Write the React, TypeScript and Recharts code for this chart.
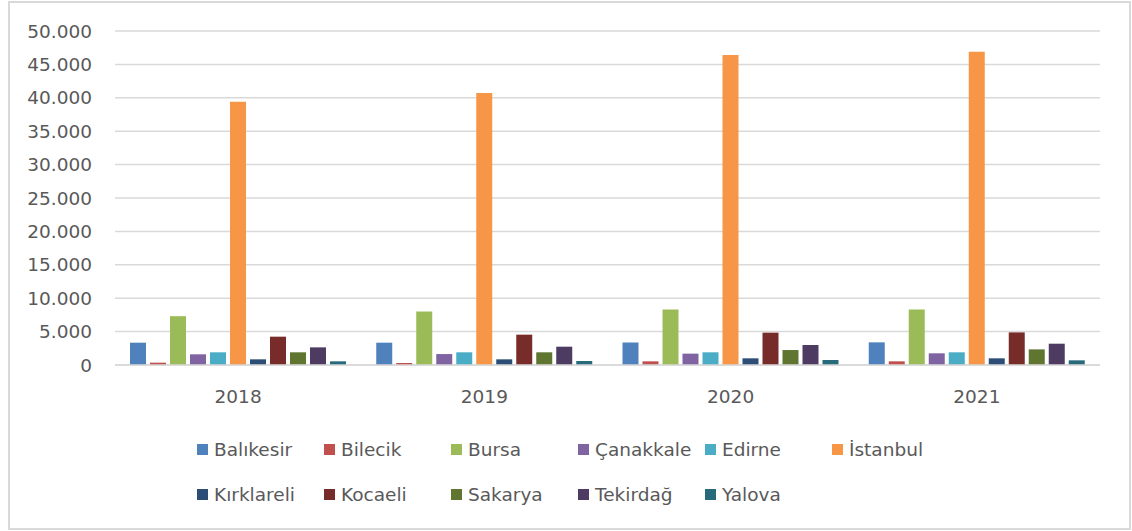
import React from 'react';
import { BarChart, Bar, XAxis, YAxis, CartesianGrid, Legend } from 'recharts';

const years = ['2018', '2019', '2020', '2021'];

const balikesir = [3340, 3340, 3370, 3390];
const bilecik = [350, 300, 550, 550];
const bursa = [7310, 8010, 8310, 8310];
const canakkale = [1600, 1640, 1700, 1750];
const edirne = [1900, 1900, 1900, 1900];
const istanbul = [39400, 40700, 46400, 46900];
const kirklareli = [850, 850, 1000, 1000];
const kocaeli = [4240, 4540, 4840, 4880];
const sakarya = [1900, 1900, 2240, 2340];
const tekirdag = [2640, 2740, 2990, 3190];
const yalova = [550, 600, 750, 700];

const yTicks = [0, 5000, 10000, 15000, 20000, 25000, 30000, 35000, 40000, 45000, 50000];

const seriesDefs = [
  { key: 'Balıkesir', values: balikesir, color: '#4F81BD' },
  { key: 'Bilecik', values: bilecik, color: '#C0504D' },
  { key: 'Bursa', values: bursa, color: '#9BBB59' },
  { key: 'Çanakkale', values: canakkale, color: '#8064A2' },
  { key: 'Edirne', values: edirne, color: '#4BACC6' },
  { key: 'İstanbul', values: istanbul, color: '#F79646' },
  { key: 'Kırklareli', values: kirklareli, color: '#2C4D75' },
  { key: 'Kocaeli', values: kocaeli, color: '#772C2A' },
  { key: 'Sakarya', values: sakarya, color: '#5F7530' },
  { key: 'Tekirdağ', values: tekirdag, color: '#4D3B62' },
  { key: 'Yalova', values: yalova, color: '#276A7C' },
];

const data = years.map((y, i) => {
  const row: Record<string, string | number> = { year: y };
  seriesDefs.forEach((s) => {
    row[s.key] = s.values[i];
  });
  return row;
});

const FONT = '"DejaVu Sans", sans-serif';
const TEXT = '#595959';
const FS = 18.5;

const fmt = (v: number) => String(v).replace(/\B(?=(\d{3})+(?!\d))/g, '.');

const LegendContent = () => (
  <div
    style={{
      display: 'grid',
      gridTemplateColumns: 'repeat(6, 127px)',
      rowGap: 19,
      fontFamily: FONT,
      fontSize: FS,
      color: TEXT,
    }}
  >
    {seriesDefs.map((s) => (
      <div key={s.key} style={{ display: 'flex', alignItems: 'center', height: 26, whiteSpace: 'nowrap' }}>
        <span style={{ display: 'inline-block', width: 11, height: 11, background: s.color, marginRight: 6 }} />
        <span>{s.key}</span>
      </div>
    ))}
  </div>
);

export default function App() {
  return (
    <div style={{ position: 'absolute', left: 0, top: 0, width: 1132, height: 531, background: '#fff' }}>
      <div
        style={{
          position: 'absolute',
          left: 8,
          top: 1,
          width: 1123,
          height: 529,
          border: '2px solid #d9d9d9',
          boxSizing: 'border-box',
        }}
      />
      <div style={{ position: 'absolute', left: 0, top: 0 }}>
        <BarChart
          width={1132}
          height={531}
          data={data}
          margin={{ top: 31, right: 32, left: 15, bottom: 136 }}
          barCategoryGap={15}
          barGap={4}
        >
          <CartesianGrid vertical={false} stroke="#d9d9d9" strokeWidth={1.5} />
          <XAxis
            dataKey="year"
            axisLine={{ stroke: '#d9d9d9', strokeWidth: 1.5 }}
            tickLine={false}
            tickMargin={19}
            height={30}
            tick={{ fill: TEXT, fontSize: FS, fontFamily: FONT }}
          />
          <YAxis
            width={100}
            domain={[0, 50000]}
            ticks={yTicks}
            interval={0}
            axisLine={false}
            tickLine={false}
            tickMargin={17}
            tickFormatter={fmt}
            tick={{ fill: TEXT, fontSize: FS, fontFamily: FONT }}
          />
          <Legend
            layout="horizontal"
            verticalAlign="middle"
            align="center"
            wrapperStyle={{ top: 436, left: 197, width: 800 }}
            content={LegendContent}
          />
          {seriesDefs.map((s) => (
            <Bar key={s.key} dataKey={s.key} fill={s.color} isAnimationActive={false} />
          ))}
        </BarChart>
      </div>
    </div>
  );
}
